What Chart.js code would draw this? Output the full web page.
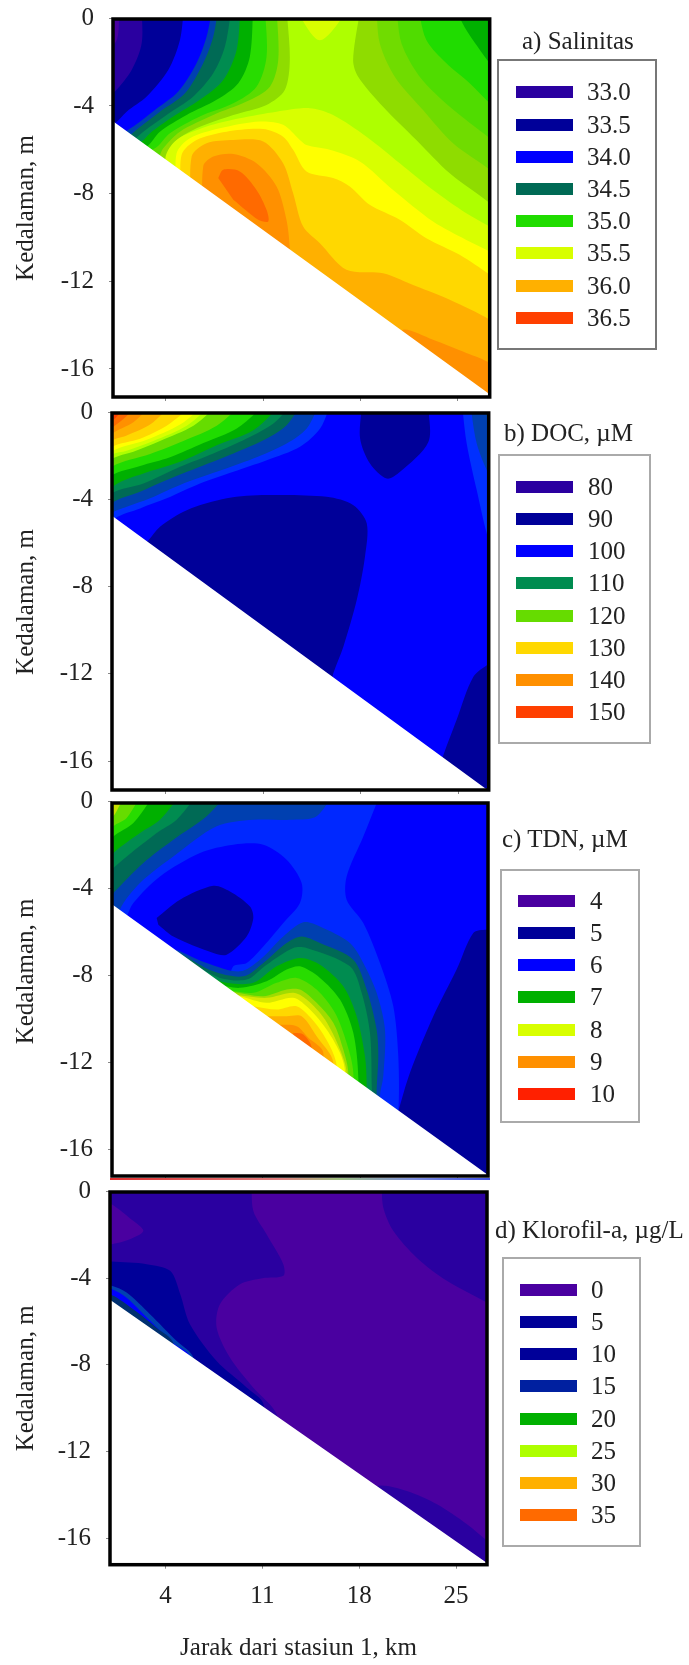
<!DOCTYPE html>
<html>
<head>
<meta charset="utf-8">
<script src="https://cdn.jsdelivr.net/npm/chart.js@4/dist/chart.umd.js"></script>
<style>
  body { margin: 0; background: #fff; }
  #page { position: relative; width: 689px; height: 1665px; overflow: hidden; font: 25px "Liberation Serif", serif; color: #222; filter: blur(.5px); }
  canvas, .box, .swatch, .txt, #stray { position: absolute; }
  .box { border: 2px solid #aaa; box-sizing: border-box; }
  .txt { white-space: nowrap; line-height: 30px; transform: translateY(-50%); }
</style>
</head>
<body>
<div id="page"></div>
<script>
// contour edges are [km, depth in m]
const xTicks = [4, 11, 18, 25];
const yTicks = [0, -4, -8, -12, -16];
const yTitle = 'Kedalaman, m';
const xTitle = 'Jarak dari stasiun 1, km';

// a) salinity
const salinityLevels = ['33.0', '33.5', '34.0', '34.5', '35.0', '35.5', '36.0', '36.5'];
const salinityLeft = [
  [[12.68,.5],[12.92,-1.9],[12.56,-3.27],[11.25,-3.95],[8.86,-4.41],[6.22,-5.02],[4.55,-5.7],[4.07,-6.46]],
  [[11.97,.5],[12.09,-1.9],[11.49,-3.12],[9.81,-3.8],[7.42,-4.41],[5.03,-5.17],[3.83,-5.93],[3.35,-6.46]],
  [[11.13,.5],[11.25,-1.75],[10.53,-3.12],[8.86,-3.88],[6.46,-4.48],[4.31,-5.24],[3.23,-5.93]],
  [[10.29,.5],[10.05,-1.75],[9.22,-2.96],[7.66,-3.72],[5.51,-4.41],[3.59,-5.17],[2.64,-5.85]],
  [[9.38,.5],[9.1,-1.44],[8.14,-2.81],[6.46,-3.72],[4.55,-4.48],[2.88,-5.24],[2.28,-5.62]],
  [[8.74,.5],[8.26,-1.29],[7.42,-2.51],[5.99,-3.57],[4.07,-4.41],[2.4,-5.17],[1.68,-5.55]],
  [[7.78,.5],[7.42,-.84],[6.7,-2.05],[5.39,-3.42],[3.59,-4.26],[2.04,-5.02],[1.32,-5.4]],
  [[7.37,.5],[6.94,-.84],[6.22,-2.05],[4.91,-3.34],[3.23,-4.18],[1.68,-4.94],[.96,-5.24]],
  [[5.32,.5],[5.03,-.99],[4.19,-2.36],[2.64,-3.57],[1.2,-4.26],[.36,-4.79],[-.23,-4.94]],
  [[2.28,.5],[2.28,-1.14],[1.56,-2.36],[.36,-3.34],[-.23,-3.57]],
  [[.67,.5],[.6,-.68],[.36,-1.14],[-.23,-1.29]]
];
const salinityRight = [
  [[18,.5],[17.47,-1.9],[17.83,-2.66],[19.62,-4.03],[22.01,-5.55],[24.41,-7.07],[27.28,-8.43],[28,-8.9]],
  [[19.14,.5],[19.38,-1.14],[20.46,-2.66],[22.49,-4.18],[24.65,-5.7],[27.28,-6.91],[28,-7.4]],
  [[20.58,.5],[20.94,-1.14],[22.25,-2.66],[24.41,-4.03],[27.28,-5.47],[28,-5.9]],
  [[22.13,.5],[22.73,-.99],[24.17,-2.05],[25.84,-2.96],[27.28,-3.88],[28,-4.3]],
  [[24.77,.5],[25.6,-.53],[27.28,-2.05],[28,-2.6]]
];
const salinityHump = [[13.76,.5],[13.76,0],[15.08,-1],[16.63,0],[16.63,.5]];
const salinityDeep = [
  [[4.2,-7.5],[4,-6.31],[4.79,-5.55],[6.94,-4.94],[9.33,-4.56],[11.97,-4.26],[14.36,-4.1],[16.03,-4.41],[18.43,-5.4],[20.82,-6.61],[23.21,-7.83],[25.6,-8.89],[27.28,-9.5],[28,-9.8]],
  [[4.8,-8],[4.79,-6.16],[5.75,-5.47],[7.9,-5.02],[10.77,-4.71],[12.44,-4.86],[13.64,-5.55],[14.12,-5.78],[15.79,-6],[17.95,-6.53],[20.34,-7.83],[23.21,-9.27],[25.6,-10.11],[27.28,-10.64],[28,-11]],
  [[5.15,-8.2],[5.15,-6.23],[6.22,-5.55],[8.38,-5.17],[11.01,-5.05],[12.44,-5.4],[13.16,-6],[14.12,-6.99],[16.03,-7.29],[17.23,-7.67],[18.66,-8.51],[20.82,-9.19],[22.73,-10.03],[25.12,-10.79],[27.28,-11.7],[28,-12.1]],
  [[5.87,-9],[5.87,-6.31],[6.94,-5.7],[8.86,-5.55],[11.01,-5.62],[12.44,-6.61],[13.16,-7.98],[13.88,-9.5],[15.08,-10.26],[16.99,-11.47],[19.62,-11.63],[22.01,-12.23],[24.41,-12.84],[27.28,-13.75],[28,-14.2]],
  [[20.8,-15],[21.06,-14.21],[23.21,-14.67],[25.6,-15.27],[27.28,-15.73],[28,-16.3]]
];
const salinityCoreOuter = [[6.7,-9.5],[6.7,-6.76],[7.42,-6.31],[8.86,-6.19],[10.53,-6.61],[11.97,-7.67],[12.68,-9.19],[12.92,-10.49],[13,-13]];
const salinityCoreInner = [[7.78,-7.29],[8.14,-6.91],[9.33,-6.99],[10.53,-7.83],[11.25,-8.74],[11.37,-9.27],[10.65,-9.19],[8.86,-8.28]];
const salinityBed = [[-2,-3.67],[29,-17.95],[29,-20],[-2,-20]];

// b) DOC
const docLevels = ['80', '90', '100', '110', '120', '130', '140', '150'];
const docCorner = [
  [[15.79,.3],[15.08,-.73],[13.64,-1.57],[11.25,-2.19],[8.86,-2.72],[6.46,-3.26],[4.07,-3.94],[2.16,-4.4],[.36,-4.86]],
  [[14.96,.3],[14.12,-.73],[12.68,-1.42],[10.29,-2.11],[7.66,-2.72],[5.27,-3.26],[2.88,-3.94],[1.2,-4.33],[.12,-4.63]],
  [[13.64,.3],[12.68,-.58],[11.25,-1.19],[8.86,-1.88],[6.46,-2.49],[4.07,-3.1],[2.16,-3.64],[.12,-4.17]],
  [[12.92,.3],[11.73,-.5],[9.81,-1.19],[7.42,-1.88],[5.03,-2.49],[2.4,-3.26],[.12,-3.72]],
  [[12.2,.3],[10.29,-.81],[7.66,-1.5],[5.03,-2.26],[2.4,-2.8],[.36,-3.33]],
  [[11.01,.3],[9.1,-.73],[6.7,-1.4],[4.31,-2.05],[2.16,-2.45],[.12,-2.9]],
  [[9.33,.3],[7.66,-.6],[5.27,-1.3],[2.88,-1.9],[.12,-2.5]],
  [[7.66,.3],[5.99,-.6],[3.59,-1.3],[1.68,-1.8],[.12,-2.15]],
  [[7.18,.3],[5.51,-.6],[3.11,-1.3],[1.2,-1.75],[.12,-1.95]],
  [[6.7,.3],[5.03,-.55],[2.64,-1.25],[.12,-1.8]],
  [[5.87,.3],[4.07,-.6],[2.16,-1.2],[.12,-1.6]],
  [[4.31,.3],[2.88,-.55],[1.2,-1.05],[.12,-1.3]],
  [[2.88,.3],[1.68,-.45],[.12,-1]],
  [[1.92,.3],[.96,-.3],[.12,-.73]],
  [[1.2,.3],[.12,-.43]]
];
const docBlob = [[18.07,.3],[17.95,-1.19],[18.66,-2.34],[19.86,-3.03],[20.82,-2.72],[22.85,-1.35],[22.85,.3]];
const docBelly = [[1.68,-6.5],[2.76,-5.86],[3.59,-5.24],[5.51,-4.48],[8.38,-3.94],[11.25,-3.79],[15.55,-3.87],[17.47,-4.25],[18.43,-5.09],[18.3,-6.62],[17.71,-8.61],[16.75,-10.75],[16.03,-11.97],[15.55,-13.2],[1.68,-13.2]];
const docFoot = [[23.5,-16.5],[23.93,-15.72],[24.88,-14.11],[26.08,-12.13],[27.28,-11.51],[28,-11.4]];
const docEdge = [
  [[25.24,.5],[25.6,-1.42],[26.32,-3.56],[27.04,-5.55],[27.5,-6.32]],
  [[25.84,.5],[26.32,-1.42],[27.28,-2.95],[28,-3.5]],
  [[26.92,.5],[27.28,-.96],[28,-1.5]]
];
const docBed = [[-2,-3.74],[29,-18.22],[29,-20],[-2,-20]];

// c) TDN
const tdnLevels = ['4', '5', '6', '7', '8', '9', '10'];
const tdnOffshore = [[19.55,.5],[18.23,-1.6],[17.03,-3.44],[17.03,-4.51],[18.23,-5.58],[19.43,-7.42],[20.39,-9.42],[20.75,-11.72],[20.75,-14.25],[20,-19],[29,-19],[29,.5]];
const tdnFar = [[20.4,-15],[20.75,-14.25],[21.59,-12.48],[23.27,-9.88],[24.95,-7.73],[26.15,-6.04],[27.11,-5.89],[29,-5.9],[29,-19],[20,-19]];
const tdnLens = [[1.19,-5.28],[1.67,-4.66],[3.59,-3.44],[6.47,-2.36],[8.87,-1.98],[11.03,-1.98],[12.71,-2.67],[13.79,-3.74],[13.67,-4.66],[12.47,-5.58],[11.03,-6.66],[9.83,-7.42],[8.87,-7.58],[8,-9],[1,-9]];
const tdnLow = [[3.35,-5.35],[5.03,-4.51],[7.43,-3.87],[8.63,-4.13],[10.07,-4.82],[10.31,-5.35],[9.83,-6.2],[8.39,-7.04],[7.43,-6.96],[4.55,-6.2],[3.47,-5.66]];
const tdnCorner = [
  [[16.19,.5],[14.87,-.67],[13.19,-.83],[10.31,-.83],[7.67,-1.13],[4.55,-2.52],[2.15,-3.74],[.71,-4.97],[.7,-6]],
  [[8.63,.5],[6.95,-.67],[4.55,-1.75],[2.39,-2.82],[.23,-4.2]],
  [[6.47,.5],[4.79,-.83],[3.35,-1.44],[.23,-3.05]],
  [[5.27,.5],[3.59,-.83],[2.15,-1.44],[.23,-2.36]],
  [[3.35,.5],[1.67,-.98],[.23,-1.6]],
  [[2.39,.5],[1.19,-.75],[.23,-1.13]],
  [[1.31,.5],[.71,-.14],[.23,-.67]]
];
const tdnPlume = [
  [[4.79,-6.81],[6.95,-7.42],[9.35,-7.81],[10.79,-7.27],[12.47,-6.2],[13.91,-5.55],[15.11,-5.74],[17.27,-6.5],[18.23,-7.42],[19.19,-8.8],[19.79,-10.49],[19.67,-12.64],[19.43,-13.56]],
  [[5.03,-6.96],[7.43,-7.81],[9.59,-8.04],[11.03,-7.42],[12.71,-6.5],[13.79,-6.2],[15.11,-6.5],[17.51,-7.27],[18.47,-8.65],[19.19,-10.49],[19.31,-11.72],[19.19,-13.4]],
  [[6.23,-7.58],[7.91,-8.11],[9.83,-8.19],[11.27,-7.5],[13.19,-6.73],[14.15,-6.73],[17.27,-7.58],[18.11,-8.8],[18.71,-10.64],[18.83,-12.94]],
  [[6.95,-8.04],[8.39,-8.34],[10.31,-8.34],[11.99,-7.58],[13.67,-7.19],[15.11,-7.5],[16.79,-8.5],[17.75,-9.88],[18.35,-11.72],[18.47,-12.94]],
  [[7.67,-8.42],[9.35,-8.57],[11.27,-8.27],[12.71,-7.73],[13.67,-7.58],[15.11,-8.11],[16.55,-9.11],[17.51,-10.64],[17.87,-12.71]],
  [[8.15,-8.65],[10.31,-8.8],[11.99,-8.34],[13.43,-8.11],[14.87,-8.65],[16.19,-9.72],[17.03,-11.1],[17.51,-12.48]],
  [[8.63,-8.73],[11.03,-8.96],[12.71,-8.65],[13.67,-8.65],[14.87,-9.26],[16.07,-10.18],[16.79,-11.41],[17.15,-12.48]],
  [[8.87,-8.88],[11.27,-9.03],[13.19,-8.8],[14.15,-9.11],[15.47,-10.03],[16.55,-11.41],[17.03,-12.48]],
  [[9.35,-8.96],[11.27,-9.26],[13.19,-9.03],[14.39,-9.57],[15.59,-10.49],[16.55,-11.56],[16.91,-12.41]],
  [[10.31,-9.42],[11.99,-9.57],[13.43,-9.42],[14.75,-10.18],[15.83,-11.26],[16.31,-12.18]],
  [[11.03,-9.88],[12.71,-9.88],[13.79,-9.88],[14.87,-10.8],[16.07,-12.02]],
  [[11.99,-10.26],[13.43,-10.34],[14.27,-10.87],[15.35,-11.56]],
  [[13.19,-10.64],[13.91,-10.72],[14.51,-11.33]]
];
const tdnBed = [[-2,-3.74],[29,-18.01],[29,-20],[-2,-20]];

// d) chlorophyll
const chlLevels = ['0', '5', '10', '15', '20', '25', '30', '35'];
const chlNear = [[10.22,.5],[10.34,-.89],[11.3,-1.97],[12.51,-3.35],[12.51,-3.89],[11,-4],[9.38,-4.28],[7.93,-5.2],[7.69,-6.28],[8.65,-7.66],[10.34,-9.05],[12.03,-10.28],[12,-12]];
const chlBlob = [[-1,-.3],[.1,-.58],[1.66,-1.35],[2.39,-1.82],[1.42,-2.2],[.1,-2.43],[-1,-2.5]];
const chlShore = [
  [[-1,-3.2],[.1,-3.23],[2.63,-3.35],[4.33,-3.66],[5.06,-4.74],[5.76,-6.12],[7.69,-7.82],[9.88,-9.05],[11.08,-9.82],[11,-13]],
  [[-1,-4.2],[.1,-4.35],[1.18,-4.66],[2.87,-5.66],[4.8,-6.9],[6,-7.66],[6,-10]],
  [[-1,-4.4],[.1,-4.5],[1.18,-4.9],[2.63,-5.8],[4.56,-7],[5.76,-7.6],[5.8,-10]],
  [[-1,-4.7],[.1,-4.77],[1.66,-5.43],[3.35,-6.28],[4.56,-7],[4.6,-10]]
];
const chlTopRight = [[19.62,.5],[19.74,-.74],[20.47,-1.82],[22.16,-3.05],[24.34,-4.12],[27.46,-5.2],[28,-5.4]];
const chlBottomRight = [[19,-14.2],[19.38,-13.58],[21.45,-13.82],[23.62,-14.43],[25.79,-15.35],[27.24,-16.12],[28,-16.6]];
const chlBed = [[-2,-4.11],[29,-17.93],[29,-20],[-2,-20]];

const wholePanel = [[-2,.5],[29,.5],[29,-20],[-2,-20]];

// how a contour edge gets closed, out of frame or under the white seabed
const toLeft = e => [...e, [-2, e[e.length - 1][1] - 1.5], [-2, .5]];
const toRight = e => [...e, [29, e[e.length - 1][1] - .5], [29, .5]];
const toBed = e => [...e, [e[e.length - 1][0], -19], [e[0][0], -19]];
const toBedRight = e => [...e, [29, -19], [-2, -19]];

const layer = (points, color, tension = .3) => ({
  data: points.map(([x, y]) => ({x, y})),
  showLine: true,
  fill: 'shape',
  backgroundColor: color,
  borderWidth: 0,
  pointRadius: 0,
  tension
});
const layers = (edges, colors, close) => edges.map((e, i) => layer(close(e), colors[i]));

const panels = [
  {
    frame: {left: 113, right: 489.7, top: 19, bottom: 396.7},
    x: [.22, 27.28], y: [-.03, -17.28], titleY: 208,
    datasets: [
      layer(wholePanel, '#aeff00', 0),
      ...layers(salinityLeft, ['#8fdc00','#5adc00','#28dc00','#00b000','#008c50','#006a55','#0040b0','#0000ff','#000099','#2a00a0','#4a00a0'], toLeft),
      ...layers(salinityRight, ['#8fdc00','#70dc00','#50dc00','#20dc00','#00b000'], toRight),
      layer(salinityHump, '#d8ff00'),
      ...layers(salinityDeep, ['#d8ff00','#ffff00','#ffd800','#ffb000','#ff9000'], toBedRight),
      layer(toBed(salinityCoreOuter), '#ff9000'),
      layer(salinityCoreInner, '#ff6a00'),
      layer(salinityBed, '#fff', 0)
    ]
  },
  {
    frame: {left: 112, right: 488.7, top: 412.7, bottom: 790},
    x: [.145, 27.18], y: [-.02, -17.33], titleY: 601.7,
    datasets: [
      layer(wholePanel, '#0000ff', 0),
      ...layers(docCorner, ['#0030ff','#0040b0','#006a55','#008c50','#00b000','#20dc00','#66dc00','#aeff00','#d8ff00','#ffff00','#ffd800','#ffb000','#ff9000','#ff6a00','#ff4000'], toLeft),
      layer(docBlob, '#000099'),
      layer(docBelly, '#000099'),
      layer(toBedRight(docFoot), '#000099'),
      ...layers(docEdge, ['#0030ff','#0040b0','#006a55'], toRight),
      layer(docBed, '#fff', 0)
    ]
  },
  {
    frame: {left: 112, right: 488, top: 803.3, bottom: 1176},
    x: [.134, 27.21], y: [-.06, -17.23], titleY: 971.7,
    datasets: [
      layer(wholePanel, '#0028ff', 0),
      layer(tdnOffshore, '#0000ff'),
      layer(tdnFar, '#000099'),
      layer(tdnLens, '#0000ff'),
      layer(tdnLow, '#000099'),
      ...layers(tdnCorner, ['#0040b0','#006a55','#008c50','#00b000','#28dc00','#66dc00','#c8e000'], toLeft),
      ...layers(tdnPlume, ['#0040b0','#006a55','#008c50','#00b000','#28dc00','#5adc00','#a0dc00','#d8e800','#ffff00','#ffd800','#ffb000','#ff9000','#ff6a00'], toBed),
      layer(tdnBed, '#fff', 0)
    ]
  },
  {
    frame: {left: 110, right: 487, top: 1191.7, bottom: 1564.7},
    x: [-.02, 27.24], y: [-.02, -17.22], titleY: 1378,
    datasets: [
      layer(wholePanel, '#4a00a0', 0),
      layer(toLeft(chlNear), '#2a00a0'),
      layer(chlBlob, '#4a00a0'),
      ...layers(chlShore, ['#000099','#0040b0','#0000ff','#003070'], toLeft),
      layer(toRight(chlTopRight), '#2a00a0'),
      layer(toBedRight(chlBottomRight), '#2a00a0'),
      layer(chlBed, '#fff', 0)
    ]
  }
];

const legends = [
  {title: 'a) Salinitas', titleX: 522, titleY: 40.7, left: 497, right: 657, top: 59, bottom: 350, edge: '#777', swatchX: 516, firstY: 92.3, textX: 587, levels: salinityLevels,
   colors: ['#2a00a0','#000099','#0000ff','#006a55','#20dc00','#d8ff00','#ffb000','#ff4000']},
  {title: 'b) DOC, µM', titleX: 504, titleY: 433, left: 498, right: 651, top: 454, bottom: 744, edge: '#aaa', swatchX: 516, firstY: 486.7, textX: 588, levels: docLevels,
   colors: ['#2a00a0','#000099','#0000ff','#008c50','#66dc00','#ffd800','#ff9000','#ff4000']},
  {title: 'c) TDN, µM', titleX: 502, titleY: 839, left: 500, right: 640, top: 869, bottom: 1123, edge: '#aaa', swatchX: 518, firstY: 900.7, textX: 590, levels: tdnLevels,
   colors: ['#4a00a0','#000099','#0000ff','#00b000','#d8ff00','#ff9000','#ff2000']},
  {title: 'd) Klorofil-a, µg/L', titleX: 495, titleY: 1230, left: 502, right: 641, top: 1257, bottom: 1547, edge: '#aaa', swatchX: 520, firstY: 1289.7, textX: 591, levels: chlLevels,
   colors: ['#4a00a0','#000099','#000099','#0020a0','#00b000','#aeff00','#ffb000','#ff6a00']}
];

Chart.defaults.font.family = '"Liberation Serif", serif';
Chart.defaults.font.size = 25;
Chart.defaults.color = '#222';
Chart.defaults.animation = false;

// heavy frame round the plot and the depth title next to it
const panelDeco = {
  id: 'panelDeco',
  afterDraw(chart, args, opts) {
    const {ctx, chartArea: a} = chart;
    ctx.save();
    ctx.lineWidth = 3.5;
    ctx.strokeStyle = '#000';
    ctx.strokeRect(a.left, a.top, a.right - a.left, a.bottom - a.top);
    ctx.translate(33, opts.titleY);
    ctx.rotate(-Math.PI / 2);
    ctx.font = '25px "Liberation Serif", serif';
    ctx.fillStyle = '#222';
    ctx.textAlign = 'center';
    ctx.fillText(yTitle, 0, 0);
    ctx.restore();
  }
};

const page = document.getElementById('page');
const canvasWidth = 500;
const padTop = 22;

panels.forEach((p, i) => {
  const last = i === panels.length - 1;
  const below = last ? 1665 - p.frame.bottom : 8;
  const canvas = document.createElement('canvas');
  canvas.width = canvasWidth;
  canvas.height = Math.round(p.frame.bottom - p.frame.top + padTop + below);
  canvas.style.left = '0px';
  canvas.style.top = (p.frame.top - padTop) + 'px';
  page.appendChild(canvas);

  new Chart(canvas, {
    type: 'scatter',
    // later layers have to paint on top, Chart.js paints the first dataset last
    data: {datasets: p.datasets.slice().reverse()},
    options: {
      responsive: false,
      events: [],
      layout: {padding: {top: padTop, right: canvasWidth - p.frame.right, left: 0, bottom: 0}},
      plugins: {legend: {display: false}, tooltip: {enabled: false}, panelDeco: {titleY: p.titleY - (p.frame.top - padTop)}},
      scales: {
        x: {
          type: 'linear',
          min: p.x[0],
          max: p.x[1],
          border: {display: false},
          grid: {drawOnChartArea: false, tickLength: 4, tickColor: '#888'},
          afterBuildTicks: s => { s.ticks = xTicks.map(value => ({value})); },
          // keep the frame where it is, whatever the tick labels want
          afterFit: s => { s.height = below; s.paddingLeft = s.paddingRight = 0; },
          ticks: {display: last, autoSkip: false, maxRotation: 0, padding: 13, callback: v => String(v)},
          title: {display: last, text: xTitle, padding: {top: 0, bottom: 2}, font: {size: 25}}
        },
        y: {
          type: 'linear',
          min: p.y[1],
          max: p.y[0],
          border: {display: false},
          grid: {drawOnChartArea: false, tickLength: 4, tickColor: '#888'},
          afterBuildTicks: s => { s.ticks = yTicks.map(value => ({value})); },
          afterFit: s => { s.width = p.frame.left; s.paddingTop = s.paddingBottom = 0; },
          ticks: {autoSkip: false, padding: 15, callback: v => String(v)}
        }
      }
    },
    plugins: [panelDeco]
  });
});

// legends
const addText = (text, x, y) => {
  const el = document.createElement('div');
  el.className = 'txt';
  el.textContent = text;
  el.style.left = x + 'px';
  el.style.top = y + 'px';
  page.appendChild(el);
};
legends.forEach(l => {
  const box = document.createElement('div');
  box.className = 'box';
  box.style.cssText = `left:${l.left}px;top:${l.top}px;width:${l.right - l.left}px;height:${l.bottom - l.top}px;border-color:${l.edge}`;
  page.appendChild(box);
  addText(l.title, l.titleX, l.titleY);
  l.levels.forEach((level, i) => {
    const y = l.firstY + i * 32.2;
    const sw = document.createElement('div');
    sw.className = 'swatch';
    sw.style.cssText = `left:${l.swatchX}px;top:${y - 6}px;width:57px;height:12px;background:${l.colors[i]}`;
    page.appendChild(sw);
    addText(level, l.textX, y);
  });
});

// thin coloured sliver under panel c in the scan
const stray = document.createElement('div');
stray.id = 'stray';
stray.style.cssText = 'left:110px;top:1178px;width:380px;height:1.5px;background:linear-gradient(90deg,#e03030 0%,#e08080 45%,#a0c080 60%,#8090e0 80%,#4050e0 100%)';
page.appendChild(stray);
</script>
</body>
</html>
